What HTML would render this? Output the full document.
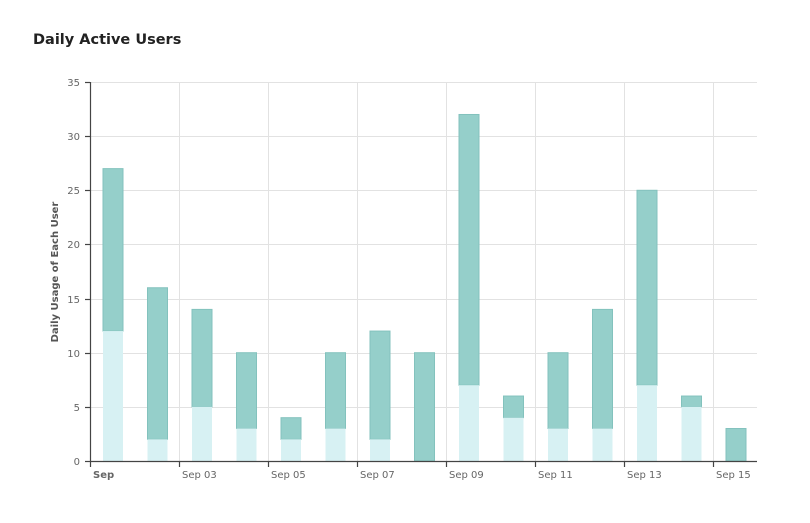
<!DOCTYPE html>
<html><head><style>
body{margin:0;background:#fff;}
svg text{font-family:"DejaVu Sans","Liberation Sans",sans-serif;}
</style></head><body>
<svg width="810" height="518" xmlns="http://www.w3.org/2000/svg">
<rect width="810" height="518" fill="#fff"/>
<text x="33" y="44" font-size="14.5" font-weight="bold" fill="#222">Daily Active Users</text>
<g stroke="#e2e2e2" stroke-width="1">
<line x1="90" y1="82.5" x2="757" y2="82.5"/>
<line x1="90" y1="136.5" x2="757" y2="136.5"/>
<line x1="90" y1="190.5" x2="757" y2="190.5"/>
<line x1="90" y1="244.5" x2="757" y2="244.5"/>
<line x1="90" y1="299.5" x2="757" y2="299.5"/>
<line x1="90" y1="353.5" x2="757" y2="353.5"/>
<line x1="90" y1="407.5" x2="757" y2="407.5"/>
<line x1="179.5" y1="82" x2="179.5" y2="461"/>
<line x1="268.5" y1="82" x2="268.5" y2="461"/>
<line x1="357.5" y1="82" x2="357.5" y2="461"/>
<line x1="446.5" y1="82" x2="446.5" y2="461"/>
<line x1="535.5" y1="82" x2="535.5" y2="461"/>
<line x1="624.5" y1="82" x2="624.5" y2="461"/>
<line x1="713.5" y1="82" x2="713.5" y2="461"/>
</g>
<g id="bars"></g>
<g stroke="#444" stroke-width="1.2">
<line x1="90.5" y1="82" x2="90.5" y2="462"/>
<line x1="90" y1="461.5" x2="757" y2="461.5"/>
<line x1="85" y1="82.5" x2="90" y2="82.5"/>
<line x1="85" y1="136.5" x2="90" y2="136.5"/>
<line x1="85" y1="190.5" x2="90" y2="190.5"/>
<line x1="85" y1="244.5" x2="90" y2="244.5"/>
<line x1="85" y1="299.5" x2="90" y2="299.5"/>
<line x1="85" y1="353.5" x2="90" y2="353.5"/>
<line x1="85" y1="407.5" x2="90" y2="407.5"/>
<line x1="85" y1="461.5" x2="90" y2="461.5"/>
<line x1="179.5" y1="461" x2="179.5" y2="467"/>
<line x1="268.5" y1="461" x2="268.5" y2="467"/>
<line x1="357.5" y1="461" x2="357.5" y2="467"/>
<line x1="446.5" y1="461" x2="446.5" y2="467"/>
<line x1="535.5" y1="461" x2="535.5" y2="467"/>
<line x1="624.5" y1="461" x2="624.5" y2="467"/>
<line x1="713.5" y1="461" x2="713.5" y2="467"/>
<line x1="90.5" y1="461" x2="90.5" y2="467"/>
</g>
<g font-size="10" fill="#666" text-anchor="end">
<text x="80" y="86">35</text><text x="80" y="140">30</text><text x="80" y="194">25</text>
<text x="80" y="248">20</text><text x="80" y="303">15</text><text x="80" y="357">10</text>
<text x="80" y="411">5</text><text x="80" y="465">0</text>
</g>
<g font-size="10" fill="#666">
<text x="93" y="478" font-weight="bold">Sep</text>
<text x="182" y="478">Sep 03</text><text x="271" y="478">Sep 05</text>
<text x="360" y="478">Sep 07</text><text x="449" y="478">Sep 09</text>
<text x="538" y="478">Sep 11</text><text x="627" y="478">Sep 13</text>
<text x="716" y="478">Sep 15</text>
</g>
<text transform="translate(58,272) rotate(-90)" font-size="10" font-weight="bold" fill="#555" text-anchor="middle">Daily Usage of Each User</text>
</svg>
<script>
var d=[[27,12],[16,2],[14,5],[10,3],[4,2],[10,3],[12,2],[10,0],[32,7],[6,4],[10,3],[14,3],[25,7],[6,5],[3,0]];
var g=document.getElementById('bars'),s='',k=379/35;
d.forEach(function(v,i){var x=103+i*44.5,yt=461-v[0]*k,yl=461-v[1]*k;
s+='<rect x="'+x+'" y="'+yt+'" width="20" height="'+(yl-yt)+'" fill="#95cfca" stroke="#83c2bd" stroke-width="1"/>';
if(v[1]>0)s+='<rect x="'+x+'" y="'+yl+'" width="20" height="'+(461-yl)+'" fill="#d7f1f3"/>';});
g.innerHTML=s;
</script>
</body></html>
